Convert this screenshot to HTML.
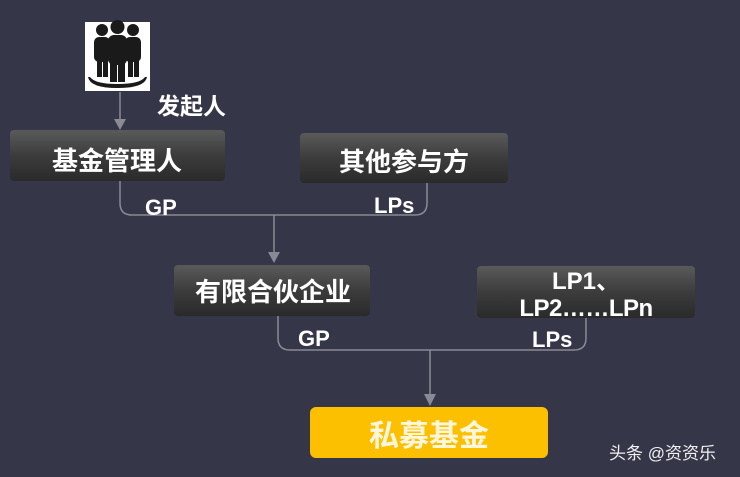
<!DOCTYPE html>
<html><head><meta charset="utf-8"><style>
html,body{margin:0;padding:0;background:#363649;}
svg{display:block}
text{font-family:"Liberation Sans","Noto Sans CJK SC",sans-serif;font-weight:bold;fill:#fff}
</style></head><body>
<svg width="740" height="477" viewBox="0 0 740 477" xmlns="http://www.w3.org/2000/svg">
<defs>
<linearGradient id="g" x1="0" y1="0" x2="0" y2="1">
<stop offset="0" stop-color="#5a5a5a"/><stop offset="0.5" stop-color="#3c3c3c"/><stop offset="1" stop-color="#2a2a2a"/>
</linearGradient>
</defs>
<rect width="740" height="477" fill="#363649"/>
<rect x="85" y="22" width="65" height="69" fill="#fff"/>
<g fill="#1a1a1a">
<circle cx="102" cy="30" r="6"/><circle cx="133" cy="30" r="6"/><circle cx="117.5" cy="27" r="7"/>
<rect x="94" y="37" width="16" height="25" rx="5"/><rect x="125" y="37" width="16" height="25" rx="5"/>
<rect x="97" y="55" width="5" height="22"/><rect x="103" y="55" width="5" height="22"/>
<rect x="128" y="55" width="5" height="22"/><rect x="134" y="55" width="5" height="22"/>
<rect x="108" y="35" width="19" height="30" rx="6"/>
<rect x="110" y="60" width="7" height="22"/><rect x="118" y="60" width="7" height="22"/>
<path d="M88 77 Q90 88 117.5 88 Q145 88 147 77 L145 77 Q140 84 117.5 84 Q95 84 90 77 Z"/>
</g>
<g stroke="#8a8a95" stroke-width="1.5" fill="none">
<line x1="120" y1="92" x2="120" y2="122"/>
<path d="M120 181 L120 203 Q120 215 132 215 L415 215 Q427 215 427 203 L427 183"/>
<line x1="274" y1="215" x2="274" y2="255"/>
<path d="M278 316 L278 338 Q278 350 290 350 L574 350 Q586 350 586 338 L586 318"/>
<line x1="430" y1="350" x2="430" y2="397"/>
</g>
<g fill="#8a8a95">
<polygon points="114,119 126,119 120,130"/>
<polygon points="268,252 280,252 274,263"/>
<polygon points="424,394 436,394 430,406"/>
</g>
<rect x="10" y="130" width="215" height="51" rx="4" fill="url(#g)"/>
<rect x="300" y="133" width="208" height="50" rx="4" fill="url(#g)"/>
<rect x="174" y="265" width="196" height="51" rx="4" fill="url(#g)"/>
<rect x="477" y="266" width="218" height="52" rx="4" fill="url(#g)"/>
<rect x="310" y="407" width="238" height="51" rx="6" fill="#fcc000"/>
<text x="157" y="114" font-size="23">发起人</text>
<text x="117" y="170" font-size="26" text-anchor="middle">基金管理人</text>
<text x="404" y="171" font-size="26" text-anchor="middle">其他参与方</text>
<text x="145" y="215" font-size="22">GP</text>
<text x="374" y="213" font-size="22">LPs</text>
<text x="273" y="301" font-size="26" text-anchor="middle">有限合伙企业</text>
<text x="586" y="289" font-size="24" text-anchor="middle">LP1、</text>
<text x="586" y="316" font-size="24" text-anchor="middle" letter-spacing="-0.5">LP2……LPn</text>
<text x="298" y="346" font-size="22">GP</text>
<text x="532" y="347" font-size="22">LPs</text>
<text x="429" y="446" font-size="30" text-anchor="middle" style="fill:#fff6dc">私募基金</text>
<text x="609" y="459" font-size="17" style="font-weight:normal;fill:#f0f0f0">头条 @资资乐</text>
</svg>
</body></html>
